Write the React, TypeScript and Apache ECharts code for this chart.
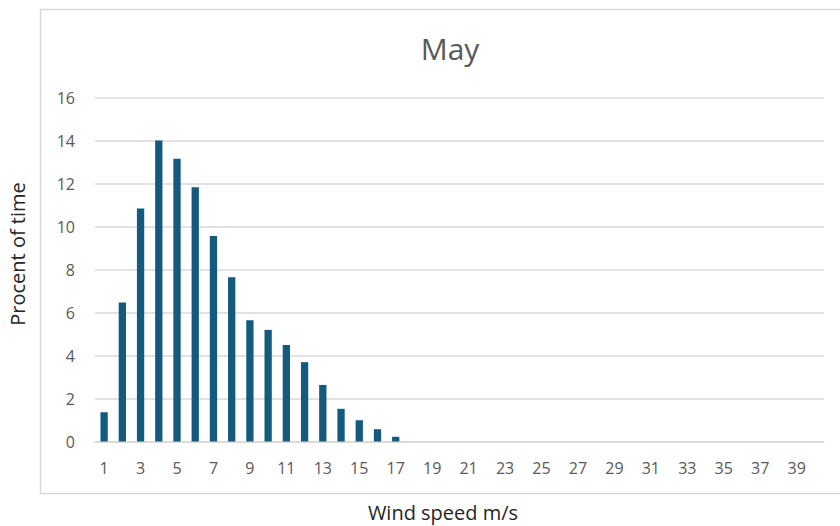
import React, { useEffect, useRef } from "react";
import * as echarts from "echarts";

const categories: string[] = Array.from({ length: 40 }, (_, i) => String(i + 1));
const percentOfTime: number[] = [
  1.36, 6.47, 10.84, 14.0, 13.15, 11.83, 9.56, 7.64, 5.64, 5.19, 4.49, 3.69, 2.63, 1.52, 0.99, 0.57, 0.22,
  0, 0, 0, 0, 0, 0, 0, 0, 0, 0, 0, 0, 0, 0, 0, 0, 0, 0, 0, 0, 0, 0, 0,
];
const titleText = "May";
const xAxisTitle = "Wind speed m/s";
const yAxisTitle = "Procent of time";

const FONT = "'Open Sans', 'Noto Sans', sans-serif";

export default function App() {
  const ref = useRef<HTMLDivElement>(null);
  useEffect(() => {
    if (!ref.current) return;
    const chart = echarts.init(ref.current, undefined, { renderer: "svg" });
    chart.setOption({
      animation: false,
      backgroundColor: "#ffffff",
      title: {
        text: titleText,
        left: 445,
        top: 28,
        textAlign: "center",
        textStyle: { fontFamily: FONT, fontSize: 30, fontWeight: "normal", color: "#595959" },
      },
      grid: { left: 95, right: 16, top: 97.5, bottom: 84.5, containLabel: false },
      xAxis: {
        type: "category",
        data: categories,
        axisLine: { show: true, lineStyle: { color: "#d9d9d9", width: 1.5 } },
        axisTick: { show: false },
        axisLabel: { interval: 1, color: "#595959", fontFamily: FONT, fontSize: 16, margin: 18 },
        splitLine: { show: false },
      },
      yAxis: {
        type: "value",
        min: 0,
        max: 16,
        interval: 2,
        axisLine: { show: false },
        axisTick: { show: false },
        axisLabel: { color: "#595959", fontFamily: FONT, fontSize: 16, margin: 20 },
        splitLine: { lineStyle: { color: "#d9d9d9", width: 1.5 } },
      },
      series: [
        {
          type: "bar",
          data: percentOfTime,
          barWidth: "40%",
          itemStyle: { color: "#145a7c" },
        },
      ],
      graphic: [
        {
          type: "rect",
          shape: { x: 40.5, y: 9.5, width: 820, height: 484 },
          style: { fill: "none", stroke: "#d9d9d9", lineWidth: 1.5 },
          silent: true,
          z: -1,
        },
        {
          type: "text",
          x: 443,
          y: 512,
          style: {
            text: xAxisTitle,
            font: `20px ${FONT}`,
            fill: "#262626",
            textAlign: "center",
            textVerticalAlign: "middle",
          },
        },
        {
          type: "text",
          x: 17,
          y: 254,
          rotation: Math.PI / 2,
          style: {
            text: yAxisTitle,
            font: `20px ${FONT}`,
            fill: "#262626",
            textAlign: "center",
            textVerticalAlign: "middle",
          },
        },
      ],
    });
    return () => chart.dispose();
  }, []);
  return <div ref={ref} style={{ width: 840, height: 526, position: "absolute", left: 0, top: 0 }} />;
}
